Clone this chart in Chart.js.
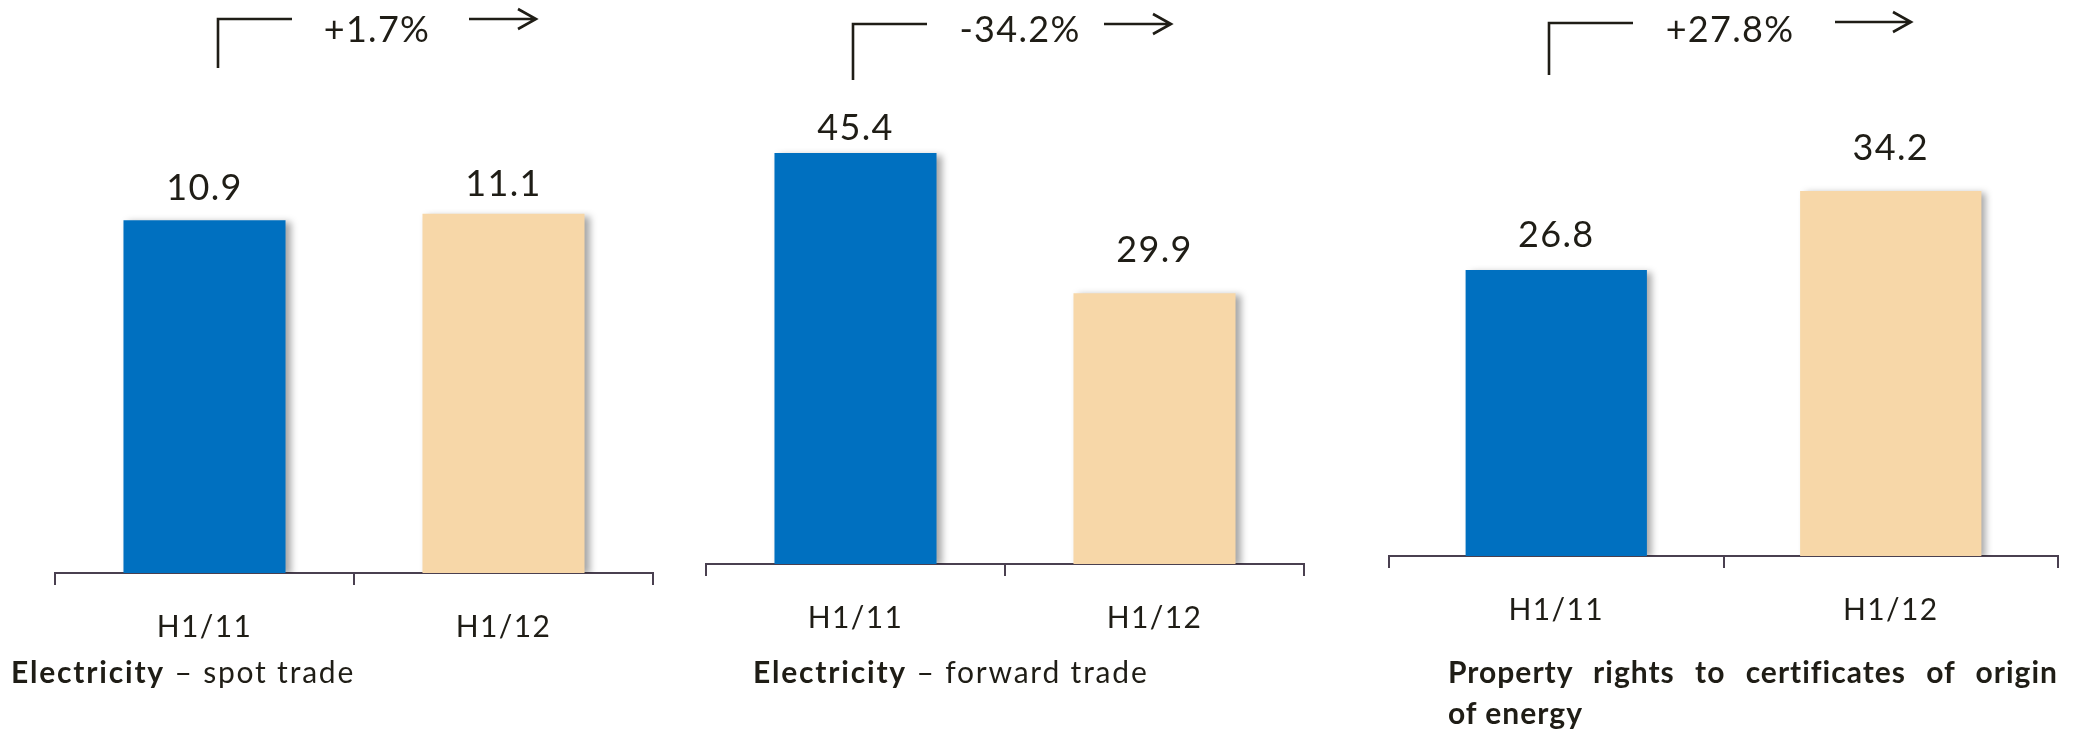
<!DOCTYPE html>
<html>
<head>
<meta charset="utf-8">
<script src="https://cdn.jsdelivr.net/npm/chart.js@4.4.1/dist/chart.umd.min.js"></script>
<style>
  body { margin: 0; background: #fff; }
  #wrap { position: relative; width: 2082px; height: 736px; overflow: hidden; font-family: Lato, sans-serif; color: #1f1d16; }
  canvas { position: absolute; top: 0; }
  .title { position: absolute; font-size: 30px; line-height: 41px; white-space: nowrap; letter-spacing: 1.8px; }
  .title b { font-weight: 700; }
  #t3 { font-weight: 700; width: 610px; letter-spacing: 1px; }
  #t3 .l1 { display: block; text-align: justify; text-align-last: justify; }
</style>
</head>
<body>
<div id="wrap">
  <canvas id="c1" width="700" height="736" style="left:0px"></canvas>
  <canvas id="c2" width="680" height="736" style="left:700px"></canvas>
  <canvas id="c3" width="702" height="736" style="left:1380px"></canvas>
  <div class="title" id="t1" style="left:11px; top:651px"><b>Electricity</b> – spot trade</div>
  <div class="title" id="t2" style="left:753px; top:651px"><b>Electricity</b> – forward trade</div>
  <div class="title" id="t3" style="left:1448px; top:651px"><span class="l1">Property rights to certificates of origin</span>of energy</div>
</div>
<script>
// data
var categories = ['H1/11', 'H1/12'];
var spotValues = [10.9, 11.1];
var forwardValues = [45.4, 29.9];
var certValues = [26.8, 34.2];
var changeLabels = ['+1.7%', '-34.2%', '+27.8%'];

var barColors = ['#0070c0', '#f7d7a8'];
var textColor = '#1f1d16';
var axisColor = '#4a4050';

// draws bar shadow, value labels and the bracket/arrow with the change
var decorPlugin = {
  id: 'decor',
  beforeDraw: function(chart) {
    chart.ctx.letterSpacing = '1.4px';
  },
  beforeDatasetsDraw: function(chart) {
    var ctx = chart.ctx;
    ctx.save();
    ctx.shadowColor = 'rgba(0,0,0,0.35)';
    ctx.shadowBlur = 7;
    ctx.shadowOffsetX = 5;
    ctx.shadowOffsetY = 2;
  },
  afterDatasetsDraw: function(chart, args, opts) {
    var ctx = chart.ctx;
    ctx.restore();
    ctx.save();
    ctx.fillStyle = textColor;
    ctx.font = '36px Lato';
    ctx.letterSpacing = '1.3px';
    ctx.textAlign = 'center';
    ctx.textBaseline = 'alphabetic';
    var meta = chart.getDatasetMeta(0);
    meta.data.forEach(function(bar, i) {
      var v = chart.data.datasets[0].data[i];
      ctx.fillText(v.toFixed(1), bar.x, bar.y - opts.gaps[i]);
    });
    // bracket
    var a = opts.note;
    ctx.strokeStyle = textColor;
    ctx.lineWidth = 2.6;
    ctx.beginPath();
    ctx.moveTo(a.bx, a.by2);
    ctx.lineTo(a.bx, a.by1);
    ctx.lineTo(a.hx, a.by1);
    ctx.stroke();
    // change text
    ctx.fillText(opts.change, a.tx, 42);
    // arrow
    ctx.beginPath();
    ctx.moveTo(a.ax1, a.ay);
    ctx.lineTo(a.ax2, a.ay);
    ctx.moveTo(a.ax2 - 18, a.ay - 10);
    ctx.lineTo(a.ax2, a.ay);
    ctx.lineTo(a.ax2 - 18, a.ay + 10);
    ctx.stroke();
    ctx.restore();
  },
  afterDraw: function(chart) {
    chart.ctx.letterSpacing = '0px';
  }
};

function makeChart(id, values, yMax, axisY, pad, change, gaps, note) {
  return new Chart(document.getElementById(id), {
    type: 'bar',
    data: {
      labels: categories,
      datasets: [{
        data: values,
        backgroundColor: barColors,
        borderWidth: 0,
        categoryPercentage: 1,
        barPercentage: 0.542
      }]
    },
    options: {
      responsive: false,
      devicePixelRatio: 1,
      animation: false,
      layout: { padding: { top: 0, bottom: 0, left: pad[0], right: pad[1] } },
      plugins: {
        legend: { display: false },
        tooltip: { enabled: false },
        decor: { change: change, gaps: gaps, note: note }
      },
      scales: {
        x: {
          afterFit: function(scale) { scale.height = 736 - axisY; },
          grid: { drawOnChartArea: false, drawTicks: true, tickLength: 12, color: axisColor, lineWidth: 2, offset: true },
          border: { display: true, color: axisColor, width: 2 },
          ticks: { padding: 24, color: textColor, font: { family: 'Lato', size: 30 } }
        },
        y: { display: false, min: 0, max: yMax }
      }
    },
    plugins: [decorPlugin]
  });
}

makeChart('c1', spotValues, 17.7, 573, [55, 47], changeLabels[0], [20, 18],
  { bx: 218, by1: 19, by2: 68, hx: 292, tx: 377, ax1: 469, ax2: 536, ay: 19 });
makeChart('c2', forwardValues, 62.3, 564, [6, 76], changeLabels[1], [13, 31],
  { bx: 153, by1: 24, by2: 80, hx: 227, tx: 320, ax1: 404, ax2: 471, ay: 24 });
makeChart('c3', certValues, 52.1, 556, [9, 24], changeLabels[2], [23, 31],
  { bx: 169, by1: 23, by2: 75, hx: 253, tx: 350, ax1: 455, ax2: 531, ay: 22 });
</script>
</body>
</html>
